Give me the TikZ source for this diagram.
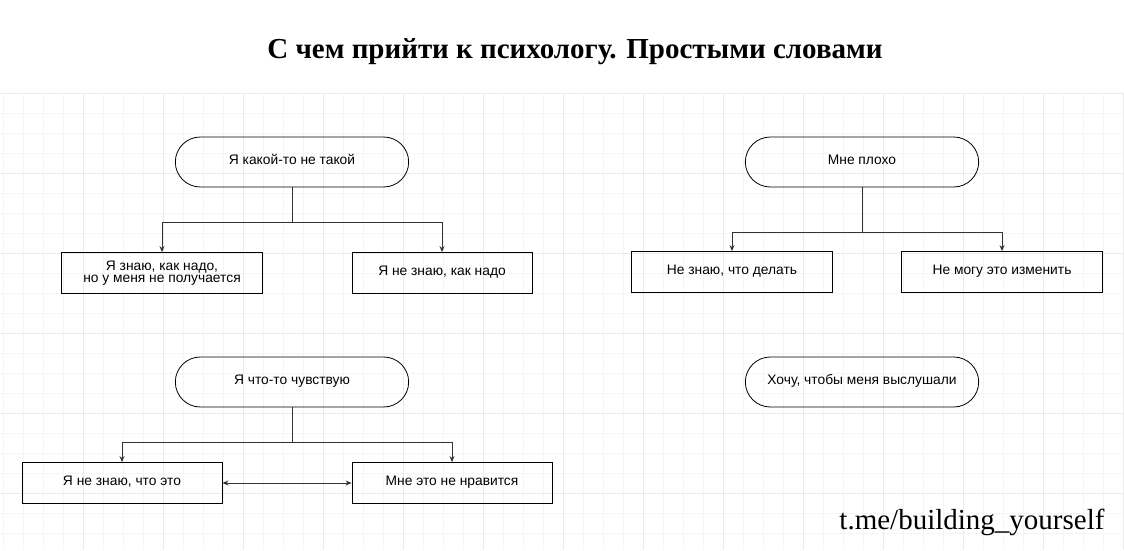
\documentclass[tikz,border=0pt]{standalone}
\usepackage{fontspec}
\setmainfont{Liberation Sans}
\newfontfamily\titlefont{Liberation Serif}
\usetikzlibrary{shapes.misc,arrows.meta}
\begin{document}
\begin{tikzpicture}[x=1pt,y=-1pt,>={Stealth[length=6pt,width=5pt]},
		thin,font=\fontsize{13.8}{15}\selectfont,
		term node/.style = {rounded rectangle,draw,line width=0.8pt,minimum width=240pt,minimum height=50pt,text height=1.45ex,text depth=.4ex},
		box node/.style = {rectangle,draw,line width=0.8pt,minimum height=41pt,align=center,text height=1.45ex,text depth=.4ex},
		link/.style = {draw=black!80,line width=1pt}]
	
	\useasboundingbox (0,0) rectangle (1124,550);
	% grid
	\foreach \x in {3,23,...,1123} \draw[black!4,line width=0.6pt] (\x,93) -- (\x,550);
	\foreach \y in {93,113,...,550} \draw[black!4,line width=0.6pt] (0,\y) -- (1124,\y);
	\foreach \x in {83,163,...,1123} \draw[black!8,line width=0.8pt] (\x,93) -- (\x,550);
	\foreach \y in {93,173,...,550} \draw[black!8,line width=0.8pt] (0,\y) -- (1124,\y);
	
	\node[font=\titlefont\bfseries\fontsize{29}{32}\selectfont] (title) at (575,52) {С чем прийти к психологу. Простыми словами};
	
	\node[term node] (t1) at (292,162) {Я какой-то не такой};
	\node[box node,minimum width=201pt,text height=,text depth=] (a) at (162,273) {Я знаю, как надо,\\[-3pt]но у меня не получается};
	\node[box node,minimum width=180pt] (b) at (442,273) {Я не знаю, как надо};
	
	\node[term node] (t2) at (862,162) {Мне плохо};
	\node[box node,minimum width=201pt] (c) at (732,272) {Не знаю, что делать};
	\node[box node,minimum width=201pt] (d) at (1002,272) {Не могу это изменить};
	
	\node[term node] (t3) at (292,382) {Я что-то чувствую};
	\node[box node,minimum width=200pt] (e) at (122,483) {Я не знаю, что это};
	\node[box node,minimum width=200pt] (f) at (452,483) {Мне это не нравится};
	
	\node[term node] (t4) at (862,382) {Хочу, чтобы меня выслушали};
	
	\node[font=\titlefont\fontsize{29}{32}\selectfont,anchor=east] (tag) at (1108,522) {t.me/building\_yourself};
	
	\coordinate (j1) at (292,222);
	\coordinate (j2) at (862,232);
	\coordinate (j3) at (292,442);
	\draw[link] (t1.south) -- (j1);
	\draw[link,->] (j1) -| (a.north);
	\draw[link,->] (j1) -| (b.north);
	\draw[link] (t2.south) -- (j2);
	\draw[link,->] (j2) -| (c.north);
	\draw[link,->] (j2) -| (d.north);
	\draw[link] (t3.south) -- (j3);
	\draw[link,->] (j3) -| (e.north);
	\draw[link,->] (j3) -| (f.north);
	\draw[link,<->] (e) -- (f);
\end{tikzpicture}
\end{document}
